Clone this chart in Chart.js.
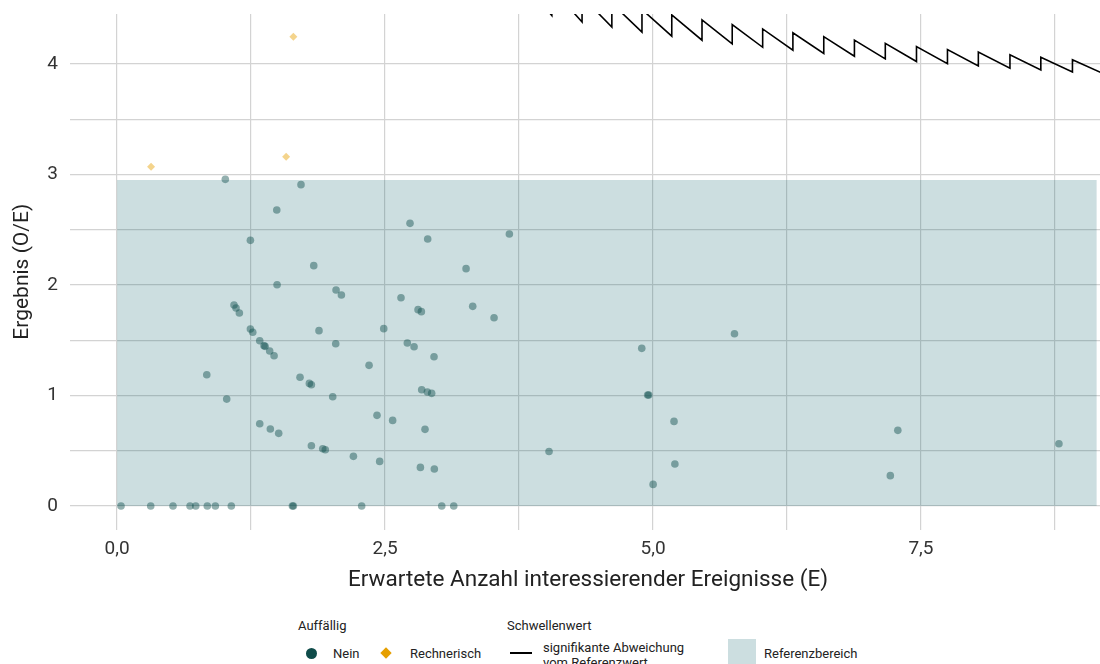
<!DOCTYPE html>
<html><head><meta charset="utf-8">
<script src="https://cdn.jsdelivr.net/npm/chart.js@4/dist/chart.umd.min.js"></script>
<style>
html,body{margin:0;padding:0;background:#fff;overflow:hidden;width:1100px;height:664px;position:relative;}
#wrap{position:absolute;left:0;top:0;width:1110px;height:600px;}
.lg{position:absolute;font-family:Roboto,sans-serif;font-size:13px;color:#222;white-space:nowrap;line-height:16px;}
.mk{position:absolute;}
</style></head><body>
<div id="wrap"><canvas id="c" width="1110" height="600"></canvas></div>

<div class="lg" style="left:298px;top:618px">Auffällig</div>
<div class="mk" style="left:306px;top:648px;width:11px;height:11px;border-radius:50%;background:#0f4c4a"></div>
<div class="lg" style="left:333px;top:646px">Nein</div>
<div class="mk" style="left:382px;top:649px;width:8px;height:8px;background:#e69f00;transform:rotate(45deg)"></div>
<div class="lg" style="left:410px;top:646px">Rechnerisch</div>

<div class="lg" style="left:507px;top:618px">Schwellenwert</div>
<div class="mk" style="left:510px;top:652px;width:22px;height:2px;background:#000"></div>
<div class="lg" style="left:543px;top:640px;line-height:15px">signifikante Abweichung<br>vom Referenzwert</div>
<div class="mk" style="left:728px;top:639px;width:28px;height:28px;background:rgb(204,222,224)"></div>
<div class="lg" style="left:764px;top:646px">Referenzbereich</div>

<script>
// ---- data ----
const neinE = [1.010,1.716,1.490,1.244,1.835,1.493,2.043,2.093,1.091,1.110,1.141,1.244,1.266,1.884,1.331,1.371,1.381,1.424,1.465,2.040,0.837,1.707,1.794,1.813,2.012,1.023,1.331,1.430,1.508,1.813,1.919,1.943,
  0.037,0.314,0.522,0.681,0.734,0.842,0.917,1.066,1.636,1.645,
  2.733,2.898,3.660,3.256,2.649,2.808,2.839,3.318,3.517,2.488,2.708,2.771,2.957,2.351,2.842,2.895,2.935,2.425,2.571,2.873,2.205,2.450,2.830,2.960,4.030,2.282,3.029,3.141,5.760,4.895,4.950,4.960,5.196,7.284,8.787,5.204,7.214,5.001];
const neinOE = [2.956,2.908,2.679,2.404,2.175,2.003,1.955,1.910,1.819,1.792,1.747,1.602,1.572,1.587,1.496,1.451,1.445,1.403,1.360,1.469,1.188,1.165,1.110,1.098,0.989,0.968,0.745,0.697,0.658,0.546,0.519,0.510,
  0,0,0,0,0,0,0,0,0,0,
  2.558,2.416,2.462,2.148,1.885,1.777,1.759,1.807,1.704,1.605,1.475,1.442,1.351,1.273,1.053,1.032,1.020,0.821,0.775,0.694,0.450,0.404,0.350,0.335,0.494,0,0,0,1.559,1.427,1.005,1.005,0.766,0.685,0.564,0.380,0.275,0.196];
const rechE = [0.317,1.645,1.577];
const rechOE = [3.070,4.247,3.161];
const thresholdE = [3.775,4.056,4.056,4.338,4.338,4.616,4.616,4.897,4.897,5.175,5.175,5.457,5.457,5.739,5.739,6.023,6.023,6.305,6.305,6.593,6.593,6.879,6.879,7.167,7.167,7.458,7.458,7.747,7.747,8.035,8.035,8.330,8.330,8.618,8.618,8.913,8.913,9.226];
const thresholdOE = [4.768,4.438,4.684,4.380,4.610,4.333,4.549,4.288,4.493,4.251,4.444,4.215,4.398,4.182,4.356,4.151,4.317,4.124,4.282,4.095,4.247,4.070,4.216,4.046,4.186,4.022,4.157,4.002,4.131,3.983,4.107,3.962,4.082,3.945,4.061,3.927,4.039,3.902];
const refBandE = [0, 9.14];
const refBandOE = [2.95, 2.95];
const xTickValues = [0,1.25,2.5,3.75,5,6.25,7.5,8.75];
const xTickLabels = ['0,0','','2,5','','5,0','','7,5',''];
const yTickValues = [0,0.5,1,1.5,2,2.5,3,3.5,4];
const yTickLabels = ['0','','1','','2','','3','','4'];
const xTitle = 'Erwartete Anzahl interessierender Ereignisse (E)';
const yTitle = 'Ergebnis (O/E)';

const pts = (xs, ys) => xs.map((x, i) => ({x: x, y: ys[i]}));
const FONT = 'Roboto, sans-serif';

new Chart(document.getElementById('c'), {
  type: 'scatter',
  data: { datasets: [
    {label:'Referenzbereich', data: pts(refBandE, refBandOE), showLine:true, fill:'origin',
     backgroundColor:'rgba(0,90,100,0.2)', borderColor:'rgba(0,0,0,0)', borderWidth:0, pointRadius:0, order:3},
    {label:'Nein', data: pts(neinE, neinOE), backgroundColor:'rgba(16,80,78,0.45)', borderWidth:0,
     pointRadius:3.8, pointHoverRadius:3.8, order:2},
    {label:'Rechnerisch', data: pts(rechE, rechOE), pointStyle:'rectRot', backgroundColor:'rgba(230,159,0,0.45)',
     borderWidth:0, pointRadius:4, pointHoverRadius:4, order:1},
    {label:'Schwellenwert', data: pts(thresholdE, thresholdOE), showLine:true, borderColor:'#000', borderWidth:1.6,
     pointRadius:0, fill:false, order:0}
  ]},
  options: {
    responsive:false, animation:false, devicePixelRatio:1, events:[],
    layout:{padding:{top:14,left:0,right:0,bottom:0}},
    plugins:{legend:{display:false}, tooltip:{enabled:false}},
    scales:{
      x:{type:'linear', min:-0.439, max:9.226,
        afterBuildTicks: s => { s.ticks = xTickValues.map(v => ({value:v})); },
        ticks:{callback:(v,i)=>xTickLabels[i], font:{family:FONT,size:19}, color:'#333', padding:8, autoSkip:false, maxRotation:0},
        grid:{color:'#d3d3d3', lineWidth:1.2, drawTicks:false},
        border:{display:false},
        title:{display:true, text:xTitle, font:{family:FONT,size:22.5}, color:'#222', padding:{top:0,bottom:6}},
        afterFit: s => { s.height = 70.5; s.paddingLeft = 0; s.paddingRight = 0; }
      },
      y:{type:'linear', min:-0.212, max:4.452,
        afterBuildTicks: s => { s.ticks = yTickValues.map(v => ({value:v})); },
        ticks:{callback:(v,i)=>yTickLabels[i], font:{family:FONT,size:19}, color:'#333', padding:12, autoSkip:false},
        grid:{color:'#d3d3d3', lineWidth:1.2, drawTicks:false},
        border:{display:false},
        title:{display:true, text:yTitle, font:{family:FONT,size:21}, color:'#222', padding:{top:10,bottom:0}},
        afterFit: s => { s.width = 70; s.paddingTop = 0; s.paddingBottom = 0; }
      }
    }
  }
});
</script>
</body></html>
